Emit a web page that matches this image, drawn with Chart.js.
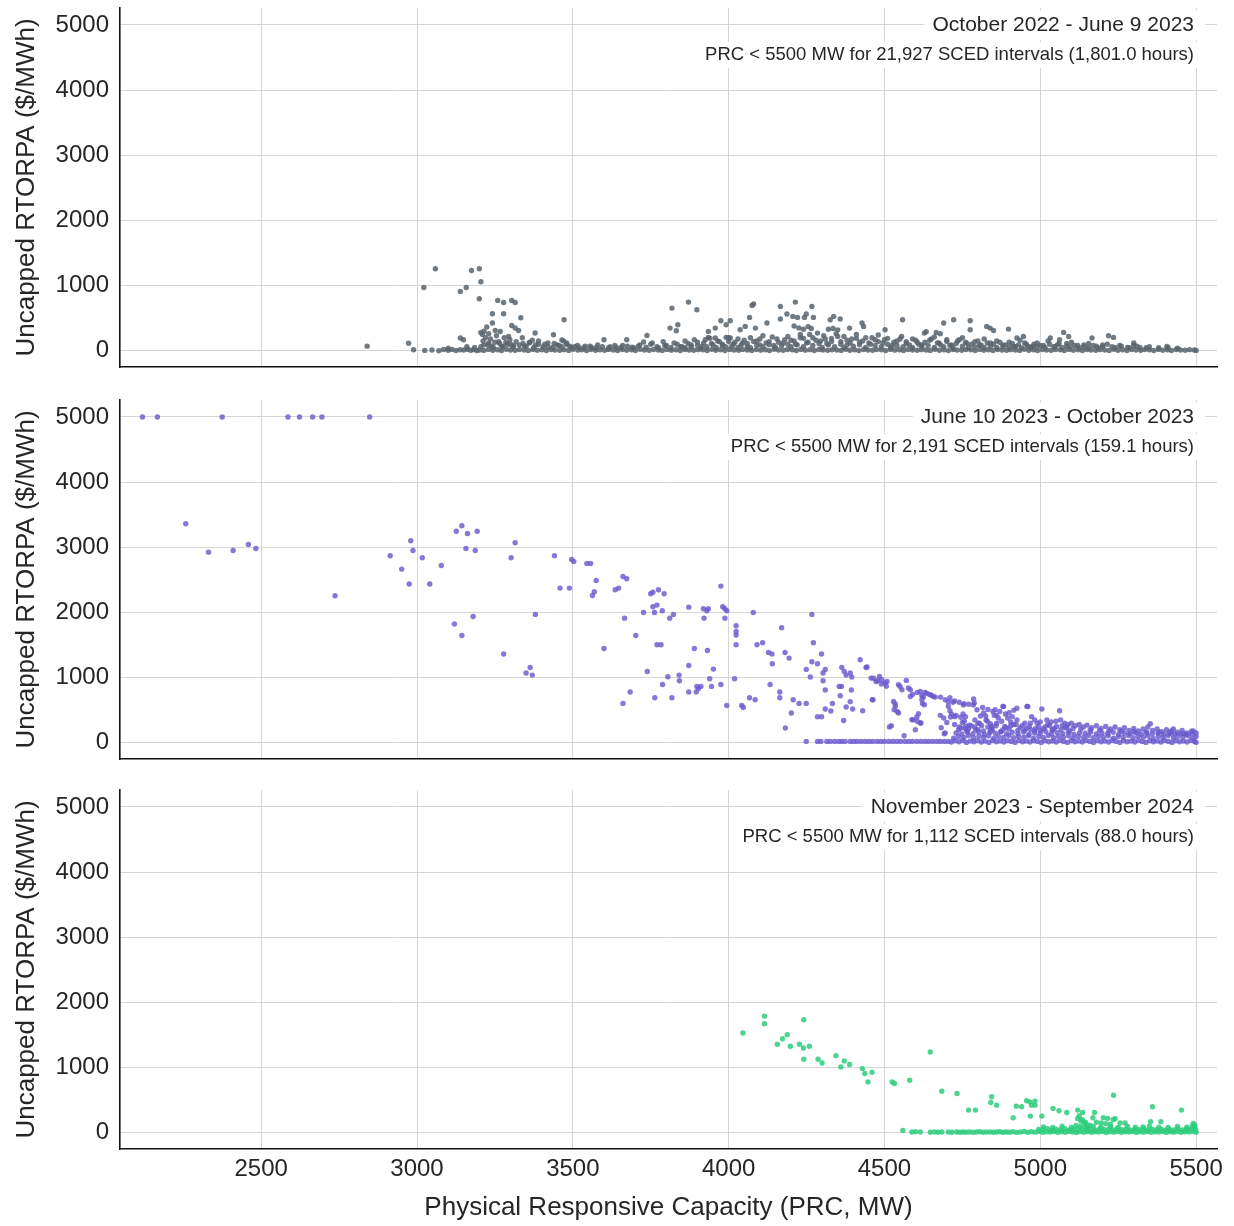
<!DOCTYPE html>
<html>
<head>
<meta charset="utf-8">
<script src="https://cdn.jsdelivr.net/npm/chart.js@4.4.0/dist/chart.umd.min.js"></script>
<style>
  body { margin: 0; background: #fff; }
  #wrap { position: relative; width: 1234px; height: 1226px; }
  #wrap canvas { position: absolute; left: 0; }
</style>
</head>
<body>
<div id="wrap">
  <canvas id="c1" width="1234" height="370" style="top:0px"></canvas>
  <canvas id="c2" width="1234" height="370" style="top:392px"></canvas>
  <canvas id="c3" width="1234" height="444" style="top:782px"></canvas>
</div>
<script>
// ---- data ----
var periodTitles = ['October 2022 - June 9 2023', 'June 10 2023 - October 2023', 'November 2023 - September 2024'];
var periodNotes = [
  'PRC < 5500 MW for 21,927 SCED intervals (1,801.0 hours)',
  'PRC < 5500 MW for 2,191 SCED intervals (159.1 hours)',
  'PRC < 5500 MW for 1,112 SCED intervals (88.0 hours)'
];
var xTitle = 'Physical Responsive Capacity (PRC, MW)';
var yTitle = 'Uncapped RTORPA ($/MWh)';
var xTicks = [2500, 3000, 3500, 4000, 4500, 5000, 5500];
var yTicks = [0, 1000, 2000, 3000, 4000, 5000];

// panel 1: Oct 2022 - Jun 9 2023  [PRC MW, RTORPA $/MWh]
var octJunScatter = [[2840,70],[2973,115],[2989,15],[3022,970],[3059,1258],[3139,910],[3158,970],[3175,1232],[3200,1258],[3205,1058],
  [3200,798],[3259,772],[3278,741],[3304,772],[3315,741],[3242,568],[3278,568],[3333,506],[3242,425],[3224,364],[3304,388],[3315,348],
  [3205,280],[3215,300],[3210,250],[3230,260],[3251,310],[3267,296],[3326,311],[3294,219],[3379,271],[3438,245],[3472,475],[3139,195],
  [3149,169],[3370,160],[3390,150],[3465,165],[3470,150],[3230,120],[3250,130],[3265,110],[3285,125],[3300,100],[3340,110],[3360,120],
  [3410,100],[3440,110],[3480,120],[3600,169],[3673,169],[3738,235],[3727,133],[3818,654],[3871,746],[3898,628],[3812,347],[3832,306],
  [3837,399],[3935,296],[3957,347],[3975,460],[3992,399],[4005,460],[3935,204],[3957,195],[3992,204],[4005,195],[4067,511],[4075,695],
  [4080,716],[4053,373],[4037,322],[4086,347],[4123,425],[4166,680],[4166,486],[4187,563],[4206,527],[4221,511],[4243,511],[4249,563],
  [4214,746],[4267,680],[4272,511],[4210,380],[4225,350],[4240,330],[4255,370],[4265,340],[4326,475],[4337,527],[4358,486],[4320,330],
  [4335,340],[4350,320],[4388,347],[4428,425],[4433,373],[4502,322],[4558,475],[4628,270],[4634,290],[4666,281],[4679,261],[4690,425],
  [4722,475],[4775,460],[4775,322],[4828,373],[4839,347],[4850,311],[4898,332],[4946,219],[4925,195],[5032,195],[5062,169],[5075,281],
  [5091,219],[5166,195],[5219,230],[5235,204],[5300,118],[5406,66]];
var octJunFuzz = [[3505,60],[3520,45],[3540,70],[3560,50],[3580,90],[3620,60],[3640,45],[3660,80],[3690,55],[3710,70],[3750,100],[3770,60],
  [3790,140],[3800,80],[3825,120],[3845,60],[3860,150],[3880,90],[3900,130],[3915,70],[3925,170],[3945,110],[3965,150],[3980,80],
  [4000,140],[4015,100],[4030,180],[4045,120],[4060,60],[4070,200],[4090,150],[4100,90],[4110,230],[4130,140],[4145,80],[4155,180],
  [4175,120],[4190,220],[4200,160],[4215,100],[4230,250],[4240,190],[4255,130],[4270,200],[4285,270],[4295,150],[4305,230],[4315,110],
  [4330,190],[4345,260],[4360,140],[4370,220],[4380,90],[4395,180],[4410,250],[4420,130],[4440,200],[4455,100],[4470,170],[4480,240],
  [4495,120],[4510,190],[4525,80],[4540,150],[4555,220],[4570,110],[4590,180],[4605,130],[4620,90],[4645,160],[4660,210],[4675,120],
  [4700,170],[4715,90],[4735,150],[4750,200],[4765,110],[4790,140],[4805,80],[4820,180],[4840,120],[4860,150],[4880,90],[4900,130],
  [4915,70],[4935,160],[4955,100],[4975,70],[4990,120],[5010,80],[5025,150],[5045,60],[5060,110],[5085,70],[5100,130],[5120,80],
  [5140,60],[5155,110],[5180,70],[5200,90],[5230,60],[5255,80],[5280,50],[5310,70],[5340,45],[3215,90],[3240,70],[3275,60],[3310,80],
  [3345,70],[3380,90],[3420,60],[3455,80],[3490,70],[3100,40],[3160,60],[3185,50]];
var octJunDense = [[3860,45],[3870,110],[3880,60],[3890,170],[3900,80],[3910,40],[3920,120],[3930,60],[3940,190],[3950,90],[3960,50],
  [3970,140],[3980,100],[3990,60],[4000,200],[4010,70],[4020,130],[4030,50],[4040,90],[4050,160],[4060,110],[4070,45],[4080,140],
  [4090,80],[4100,180],[4110,60],[4120,120],[4130,90],[4140,210],[4150,50],[4160,130],[4170,80],[4180,170],[4190,100],[4200,60],
  [4210,150],[4220,90],[4230,200],[4240,60],[4250,120],[4260,250],[4270,80],[4280,160],[4290,110],[4300,50],[4310,180],[4320,90],
  [4330,140],[4340,60],[4350,220],[4360,100],[4370,50],[4380,160],[4390,120],[4400,70],[4410,190],[4420,90],[4430,150],[4440,50],
  [4450,120],[4460,200],[4470,80],[4480,140],[4490,60],[4500,170],[4510,100],[4520,50],[4530,130],[4540,80],[4550,180],[4560,60],
  [4570,140],[4580,90],[4590,50],[4600,160],[4610,100],[4620,60],[4630,130],[4640,80],[4650,180],[4660,50],[4670,120],[4680,90],
  [4690,60],[4700,140],[4710,80],[4720,50],[4730,110],[4740,170],[4750,70],[4760,130],[4770,50],[4780,100],[4790,60],[4800,150],
  [4810,90],[4820,50],[4830,120],[4840,70],[4850,100],[4860,50],[4870,130],[4880,60],[4890,90],[4900,50],[4910,110],[4920,60],
  [4930,90],[4940,45],[4950,120],[4960,70],[4970,50],[4980,100],[4990,60],[5000,80],[5015,50],[5030,100],[5045,60],[5055,90],[5070,50],
  [5085,110],[5095,60],[5110,80],[5125,45],[5140,90],[5155,50],[5170,80],[5185,45],[5200,60],[5215,100],[5240,50],[5260,70],[5285,45],
  [5300,80],[5320,50],[5350,60],[5380,45],[5410,50],[5440,40],
  [3205,60],[3212,150],[3220,200],[3228,90],[3236,180],[3245,50],[3255,230],[3262,140],[3272,70],[3280,200],[3290,100],[3298,170],
  [3308,60],[3318,140],[3328,90],[3338,200],[3350,70],[3362,130],[3375,50],[3390,100],[3405,60],[3420,120],[3435,50],[3450,90],
  [3465,60],[3480,100],[3495,45],[3515,80],[3535,45],[3555,70],[3575,45],[3595,60],[3615,45],[3635,80],[3655,50],[3675,70],[3695,45],
  [3715,90],[3735,55],[3755,120],[3775,45],[3795,80],[3815,50],[3835,100],[3850,60]];
var octJunBand = [[3025,5],[3048,12],[3070,0],[3085,18],[3100,8],[3112,20],[3125,4],[3138,14],[3150,10],[3162,22],[3172,6],[3182,16],[3192,2],
  [3200,12],[3214,5],[3229,20],[3243,8],[3258,15],[3271,2],[3286,22],[3300,10],[3315,6],[3329,18],[3344,12],[3357,4],[3372,20],[3386,9],
  [3401,14],[3415,3],[3430,19],[3443,11],[3458,7],[3472,16],[3487,5],[3501,21],[3516,10],[3529,13],[3544,2],[3558,18],[3573,8],[3587,15],
  [3602,6],[3615,20],[3630,11],[3644,4],[3659,17],[3673,9],[3688,14],[3701,3],[3716,22],[3730,10],[3745,7],[3759,18],[3774,12],[3787,5],
  [3802,20],[3816,9],[3831,15],[3845,2],[3860,19],[3873,11],[3888,6],[3902,16],[3917,13],[3931,4],[3946,21],[3959,8],[3974,14],[3988,3],
  [4003,18],[4017,10],[4032,6],[4045,20],[4060,12],[4074,5],[4089,17],[4103,9],[4118,15],[4131,2],[4146,22],[4160,11],[4175,7],[4189,18],
  [4204,13],[4217,4],[4232,20],[4246,9],[4261,16],[4275,3],[4290,19],[4303,10],[4318,6],[4332,15],[4347,12],[4361,5],[4376,21],[4389,8],
  [4404,14],[4418,2],[4433,18],[4447,11],[4462,7],[4475,17],[4490,13],[4504,4],[4519,20],[4533,9],[4548,15],[4561,3],[4576,19],[4590,10],
  [4605,6],[4619,16],[4634,12],[4647,5],[4662,22],[4676,8],[4691,14],[4705,2],[4720,18],[4733,11],[4748,7],[4762,17],[4777,13],[4791,4],
  [4806,20],[4819,9],[4834,15],[4848,3],[4863,19],[4877,10],[4892,6],[4905,16],[4920,12],[4934,5],[4949,21],[4963,8],[4978,14],[4991,2],
  [5006,18],[5020,11],[5035,7],[5049,17],[5064,13],[5077,4],[5092,20],[5106,9],[5121,15],[5135,3],[5150,19],[5163,10],[5178,6],[5192,16],
  [5207,12],[5221,5],[5236,22],[5249,8],[5264,14],[5278,2],[5293,18],[5307,11],[5322,7],[5335,17],[5350,13],[5364,4],[5379,20],[5393,9],
  [5408,15],[5421,3],[5436,19],[5450,10],[5465,6],[5479,16],[5494,12],[5500,5]];

// panel 2: Jun 10 2023 - Oct 2023
var junOctCap = [[2119,5000],[2167,5000],[2375,5000],[2586,5000],[2623,5000],[2665,5000],[2695,5000],[2848,5000]];
var junOctScatter = [[2258,3360],[2331,2925],[2410,2950],[2459,3042],[2483,2980],[2737,2255],[2914,2869],[2951,2665],[2980,3099],[2987,2950],
  [2975,2435],[3017,2838],[3041,2435],[3078,2720],[3126,3246],[3144,3329],[3162,3211],[3193,3246],[3157,2980],[3187,2950],[3302,2838],
  [3315,3068],[3120,1821],[3144,1646],[3180,1938],[3278,1361],[3350,1069],[3363,1155],[3370,1038],[3380,1969],[3441,2869],[3459,2373],
  [3489,2373],[3496,2812],[3503,2781],[3545,2750],[3557,2750],[3575,2490],[3563,2260],[3569,2316],[3600,1447],[3636,2347],[3647,2373],
  [3661,2551],[3673,2516],[3666,1912],[3702,1646],[3661,603],[3684,778],[3739,1094],[3750,2286],[3757,2311],[3775,2347],[3793,2286],
  [3757,2086],[3770,2112],[3727,1999],[3762,1999],[3787,2025],[3770,1503],[3783,1503],[3763,690],[3788,894],[3805,1012],[3811,1912],
  [3823,1969],[3818,690],[3841,1038],[3842,951],[3872,2081],[3872,778],[3890,1447],[3872,1186],[3898,864],[3903,833],[3911,864],[3896,778],
  [3919,2056],[3930,2025],[3935,2056],[3921,1912],[3932,1416],[3939,982],[3945,864],[3951,1130],[3975,2404],[3975,894],[3981,2086],
  [3988,2056],[3994,2025],[3988,1912],[3994,572],[4019,982],[4024,1795],[4024,1707],[4024,1652],[4024,1503],[4042,572],[4047,541],
  [4067,690],[4085,660],[4079,1999],[4091,1503],[4109,1534],[4128,1385],[4139,1361],[4133,894],[4140,1212],[4164,778],[4164,690],
  [4170,1764],[4181,1385],[4194,1299],[4182,225],[4201,456],[4207,660],[4226,603],[4249,603],[4249,1125],[4262,1008],[4267,1969],
  [4272,1534],[4267,1243],[4285,1212],[4298,1361],[4303,951],[4303,1069],[4310,1125],[4310,808],[4285,399],[4298,399],[4310,517],
  [4328,486],[4333,603],[4358,721],[4369,342],[4363,1155],[4371,1094],[4377,1038],[4355,864],[4362,864],[4377,548],[4390,1069],
  [4395,1008],[4394,808],[4390,630],[4398,517],[4422,1273],[4441,1155],[4430,491],[4457,992],[4473,940],[4484,1017],[4491,966],
  [4502,916],[4508,940],[4461,660],[4516,241],[4522,261],[4529,634],[4534,598],[4531,506],[4545,456],[4545,890],[4550,864],[4556,813],
  [4570,956],[4577,839],[4583,813],[4563,107],[4588,353],[4604,394],[4609,445],[4599,199],[4615,302],[4590,740],[4605,770],[4620,720],
  [4635,760],[4650,730],[4663,700],[4625,700],[4628,583],[4680,700],[4695,660],[4710,690],[4725,640],[4740,620],[4755,600],[4770,590],
  [4785,580],[4690,380],[4700,310],[4715,440],[4692,138],[4730,420],[4745,390],[4752,440],[4760,400],[4786,670],[4788,609],[4790,350],
  [4800,300],[4808,410],[4815,540],[4832,510],[4848,480],[4852,420],[4865,380],[4880,557],[4925,530],[4960,555],[5005,517],[5062,491],
  [4444,1161],[4465,990],[4478,950],[4490,900],[4506,865],[4463,660],[4535,560],[4541,480],[4583,710],[4615,787],[4630,770],[4645,740],
  [4657,710],[4620,660],[4622,600],[4592,353],[4605,330],[4617,302],[4705,630],[4720,620],[4753,580],[4705,560],[4710,490],[4679,420],
  [4712,395],[4725,400],[4682,230],[4695,150],[4745,225],[4760,250],[4770,220],[4797,506],[4818,455],[4825,410],[4830,330],[4840,290],
  [4845,250],[4855,506],[4882,557],[4860,420],[4870,480],[4888,440],[4895,380],[4900,460],[4905,320],[4910,400],[4915,500],[4922,280],
  [4925,350],[4957,557],[4972,400],[4982,350],[4990,300],[5021,350],[5035,320],[5050,330],[5065,350],[5078,300],[5089,280]];
var junOctCloud = [[5100,300],[5112,260],[5125,280],[5138,240],[5150,270],[5165,230],[5180,260],[5195,220],[5210,250],[5225,210],[5240,240],
  [5255,200],[5270,230],[5285,190],[5300,220],[5315,180],[5330,210],[5345,240],[5353,290],[5360,190],[5375,210],[5390,170],[5405,200],
  [5420,180],[5427,210],[5440,160],[5455,190],[5470,150],[5485,175],[5491,180],[5500,150],[4725,280],[4738,200],[4750,310],[4765,180],
  [4778,260],[4792,200],[4805,300],[4818,180],[4832,240],[4846,200],[4860,300],[4873,170],[4886,250],[4900,210],[4914,280],[4928,190],
  [4942,260],[4955,220],[4968,300],[4982,180],[4995,250],[5010,210],[5024,280],[5038,190],[5052,250],[5066,200],[5080,230],[5094,180],
  [4730,150],[4748,135],[4766,160],[4784,140],[4802,165],[4820,130],[4838,155],[4856,145],[4874,170],[4892,135],[4910,160],[4928,140],
  [4946,165],[4964,130],[4982,150],[5000,145],[5018,170],[5036,135],[5054,155],[5072,140],[5090,160],[5108,130],[5126,150],[5144,145],
  [5162,165],[5180,135],[5198,150],[5216,140],[5234,160],[5252,130],[5270,150],[5288,140],[5306,155],[5324,130],[5342,150],[5360,140],
  [5378,150],[5396,130],[5414,145],[5432,135],[5450,140],[5468,125],[5486,135],
  [4722,70],[4738,95],[4755,80],[4770,110],[4786,75],[4803,100],[4818,85],[4834,105],[4851,70],[4866,95],[4882,80],[4899,110],[4914,75],
  [4930,100],[4947,85],[4962,105],[4978,70],[4995,95],[5010,80],[5026,110],[5043,75],[5058,100],[5074,85],[5091,105],[5106,70],[5122,95],
  [5139,80],[5154,110],[5170,75],[5187,100],[5202,85],[5218,105],[5235,70],[5250,95],[5266,80],[5283,110],[5298,75],[5314,100],[5331,85],
  [5346,105],[5362,70],[5379,95],[5394,80],[5410,110],[5427,75],[5442,100],[5458,85],[5475,105],[5490,70],[5500,95],
  [4740,240],[4756,330],[4772,270],[4790,240],[4812,260],[4826,350],[4842,220],[4858,260],[4876,330],[4890,230],[4905,260],[4935,230],
  [4950,300],[4965,250],[4985,220],[5000,320],[5015,240],[5030,260],[5045,220],[5070,260],[5085,240],[5105,220],[5130,210],[5160,200],
  [5190,190],[5220,180],[5260,175],[5300,170],[5340,165],[5380,160],[5420,150],[5460,140],[4950,190],[4970,200],[5000,190],[5040,200],
  [4880,200],[4840,180],[4800,200],[4760,210]];
var junOctBand = [[4249,20],[4285,20],[4296,20],[4315,20],[4326,20],[4340,20],[4353,20],[4363,20],[4374,20],[4390,20],[4401,20],[4412,20],
  [4425,20],[4438,20],[4450,20],[4462,20],[4476,20],[4488,20],[4500,20],[4514,20],[4527,20],[4540,20],[4552,20],[4566,20],[4578,20],
  [4590,20],[4604,20],[4617,20],[4630,20],[4642,20],[4655,20],[4668,20],[4680,20],[4693,20],[4705,20],
  [4715,10],[4727,30],[4739,15],[4751,35],[4763,5],[4775,25],[4787,15],[4799,30],[4811,10],[4823,25],[4835,5],[4847,35],[4859,15],
  [4871,25],[4883,10],[4895,30],[4907,20],[4919,5],[4931,35],[4943,15],[4955,25],[4967,10],[4979,30],[4991,20],[5003,5],[5015,30],
  [5027,15],[5039,25],[5051,10],[5063,35],[5075,20],[5087,5],[5099,30],[5111,15],[5123,25],[5135,10],[5147,35],[5159,20],[5171,5],
  [5183,30],[5195,15],[5207,25],[5219,10],[5231,35],[5243,20],[5255,5],[5267,30],[5279,15],[5291,25],[5303,10],[5315,35],[5327,20],
  [5339,5],[5351,30],[5363,15],[5375,25],[5387,10],[5399,35],[5411,20],[5423,5],[5435,30],[5447,15],[5459,25],[5471,10],[5483,35],
  [5495,20],[5500,5]];

// panel 3: Nov 2023 - Sep 2024
var novSepScatter = [[4046,1530],[4115,1790],[4115,1673],[4156,1357],[4173,1443],[4188,1505],[4198,1326],[4227,1357],[4240,1300],[4259,1326],
  [4241,1734],[4241,1127],[4287,1127],[4300,1071],[4344,1183],[4360,1010],[4371,1102],[4388,1046],[4429,984],[4437,908],[4447,780],
  [4460,928],[4525,780],[4532,755],[4581,806],[4647,1239],[4684,638],[4733,602],[4770,347],[4792,347],[4844,551],[4841,464],[4860,423],
  [4913,230],[4923,408],[4940,398],[4956,490],[4967,474],[4983,485],[4972,423],[4983,423],[4968,255],[5005,255],[5041,372],[5060,337],
  [5085,311],[5120,347],[5136,311],[5120,220],[5130,180],[5141,143],[5125,260],[5135,200],[5145,160],[5174,311],[5169,230],[5202,230],
  [5216,219],[5234,204],[5235,576],[5240,215],[5256,150],[5272,150],[5360,398],[5354,168],[5387,168],[5453,347],[5491,143],[5496,92],
  [5180,160],[5195,150],[5210,140],[5225,130],[5150,120],[5160,110]];
var novSepBand = [[4559,35],[4588,10],[4600,15],[4615,12],[4647,8],[4660,10],[4672,8],[4684,12],[4705,10],[4717,8],[4732,12],[4742,8],
  [4752,10],[4762,6],[4773,12],[4785,8],[4796,10],[4806,14],[4817,8],[4828,10],[4840,12],[4850,8],[4860,10],[4870,14],[4880,8],[4890,10],
  [4900,8],[4912,15],[4924,5],[4936,12],[4948,18],[4960,6],[4972,14],[4984,9],[4996,20],[5008,5],[5020,15],[5032,10],[5044,18],[5056,6],
  [5068,14],[5080,8],[5092,20],[5104,12],[5116,5],[5128,16],[5140,9],[5152,18],[5164,6],[5176,14],[5188,10],[5200,20],[5212,5],[5224,15],
  [5236,9],[5248,18],[5260,6],[5272,14],[5284,10],[5296,20],[5308,5],[5320,15],[5332,9],[5344,18],[5356,6],[5368,14],[5380,10],[5392,20],
  [5404,5],[5416,15],[5428,9],[5440,18],[5452,6],[5464,14],[5476,10],[5488,20],[5500,8],
  [4995,50],[5009,45],[5023,60],[5037,40],[5051,55],[5065,48],[5079,62],[5093,42],[5107,58],[5121,50],[5135,65],[5149,45],[5163,55],
  [5177,40],[5191,60],[5205,48],[5219,52],[5233,42],[5247,58],[5261,45],[5275,55],[5289,40],[5303,50],[5317,45],[5331,58],[5345,42],
  [5359,52],[5373,46],[5387,55],[5401,40],[5415,50],[5429,44],[5443,56],[5457,42],[5471,52],[5485,60],[5498,45],
  [5010,90],[5040,80],[5070,100],[5100,85],[5115,110],[5128,95],[5148,80],[5170,95],[5195,85],[5225,90],[5250,80],[5280,95],[5305,85],
  [5330,90],[5350,100],[5380,85],[5410,80],[5440,95],[5470,85],[5488,100],[5495,120]];

// ---- drawing ----
var fontFamily = "'Liberation Sans', Arial, sans-serif";
var inkColor = '#262626';

// period title + interval note, right-aligned in the plot with a white box behind
var panelNote = {
  id: 'panelNote',
  beforeDatasetsDraw: function(chart, args, opts) {
    var ctx = chart.ctx, area = chart.chartArea;
    var right = area.right - 23;
    var lines = [
      {text: opts.title, size: 21, dy: 17, padL: 8, padR: 11},
      {text: opts.note, size: 18.5, dy: 47, padL: 4, padR: 6}
    ];
    ctx.save();
    ctx.textAlign = 'right';
    ctx.textBaseline = 'middle';
    lines.forEach(function(ln) {
      ctx.font = ln.size + 'px ' + fontFamily;
      var w = ctx.measureText(ln.text).width;
      var cy = area.top + ln.dy;
      ctx.fillStyle = '#fff';
      ctx.fillRect(right - w - ln.padL, cy - ln.size * 0.7, w + ln.padL + ln.padR, ln.size * 1.4);
      ctx.fillStyle = inkColor;
      ctx.fillText(ln.text, right, cy);
    });
    ctx.restore();
  }
};

function toPoints(groups) {
  var out = [];
  groups.forEach(function(g) {
    g.forEach(function(p) { out.push({x: p[0], y: p[1]}); });
  });
  return out;
}

function fixedTicks(values) {
  return function(scale) {
    scale.ticks = values.map(function(v) { return {value: v}; });
  };
}

function makeChart(id, groups, color, idx, showX, xHeight) {
  var ctx = document.getElementById(id).getContext('2d');
  return new Chart(ctx, {
    type: 'scatter',
    data: {
      datasets: [{
        data: toPoints(groups),
        backgroundColor: color,
        borderWidth: 0,
        pointRadius: 2.7,
        pointHoverRadius: 2.7
      }]
    },
    options: {
      responsive: false,
      animation: false,
      devicePixelRatio: 1,
      layout: { padding: { top: 8, right: 17, left: 0, bottom: 0 } },
      plugins: {
        legend: { display: false },
        tooltip: { enabled: false },
        panelNote: { title: periodTitles[idx], note: periodNotes[idx] }
      },
      scales: {
        x: {
          type: 'linear',
          min: 2047,
          max: 5567,
          afterBuildTicks: fixedTicks(xTicks),
          afterFit: function(s) { s.height = xHeight; s.paddingLeft = 0; s.paddingRight = 0; },
          grid: { color: '#d6d6d6', lineWidth: 1, drawTicks: false },
          border: { display: true, color: '#111', width: 1.6 },
          ticks: {
            display: showX, maxRotation: 0, autoSkip: false,
            padding: 6, color: inkColor, font: { size: 24, family: fontFamily },
            callback: function(v) { return String(v); }
          },
          title: {
            display: showX, text: xTitle, color: inkColor,
            font: { size: 26, family: fontFamily }, padding: { top: 0, bottom: 3 }
          }
        },
        y: {
          min: -250,
          max: 5260,
          afterBuildTicks: fixedTicks(yTicks),
          afterFit: function(s) { s.width = 120; s.paddingTop = 0; s.paddingBottom = 0; },
          grid: { color: '#d6d6d6', lineWidth: 1, drawTicks: false },
          border: { display: true, color: '#111', width: 1.6 },
          ticks: {
            padding: 11, color: inkColor, font: { size: 24, family: fontFamily },
            callback: function(v) { return String(v); }
          },
          title: {
            display: true, text: yTitle, color: inkColor,
            font: { size: 26, family: fontFamily }, padding: { top: 11, bottom: 0 }
          }
        }
      }
    },
    plugins: [panelNote]
  });
}

makeChart('c1', [octJunBand, octJunDense, octJunFuzz, octJunScatter], 'rgba(88,100,110,0.85)', 0, false, 3);
makeChart('c2', [junOctBand, junOctCloud, junOctScatter, junOctCap], 'rgba(106,90,205,0.82)', 1, false, 3);
makeChart('c3', [novSepBand, novSepScatter], 'rgba(46,204,125,0.85)', 2, true, 77);
</script>
</body>
</html>
